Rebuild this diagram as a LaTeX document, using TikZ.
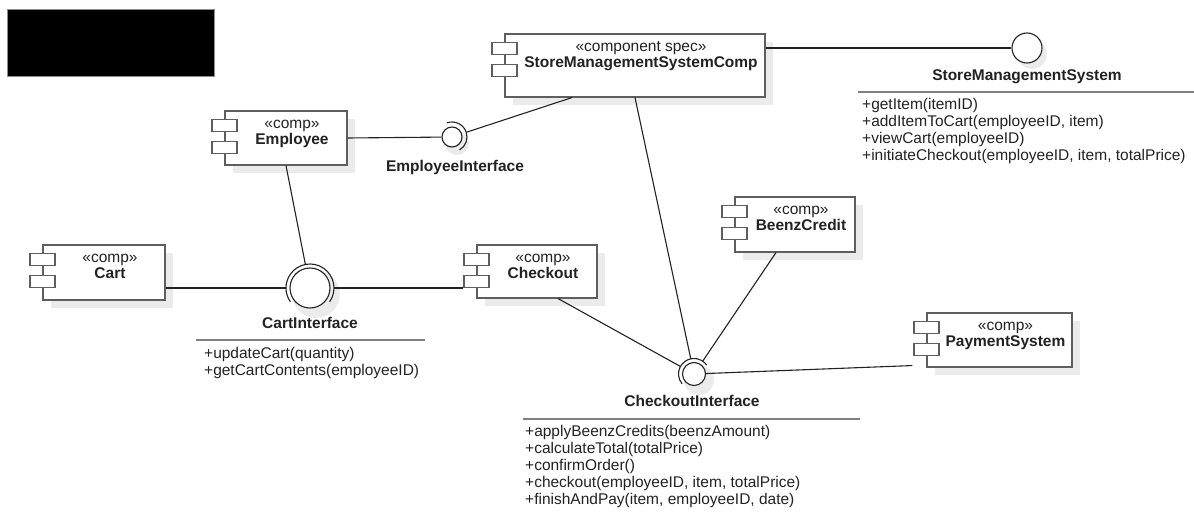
\documentclass[tikz,border=0pt]{standalone}
\usepackage{fontspec}
\setmainfont{Liberation Sans}
\definecolor{boxc}{HTML}{5E5E5E}
\definecolor{linec}{HTML}{222222}
\definecolor{txtc}{HTML}{222222}
\definecolor{sepc}{HTML}{808080}
\definecolor{shadc}{HTML}{EBEBEB}
\newcommand\dfont{\fontsize{15.5}{17}\selectfont}
\tikzset{
 compbox/.style={rectangle, draw=boxc, fill=white, line width=1.1pt, inner sep=0pt},
 iconrect/.style={rectangle, draw=boxc, fill=white, line width=1.1pt, minimum width=25pt, minimum height=12pt, inner sep=0pt},
 stereo/.style={text=txtc, inner sep=0pt, anchor=mid},
 cname/.style={text=txtc, inner sep=0pt, anchor=mid, font=\dfont\bfseries},
 conn/.style={draw=linec, line width=1.1pt},
 ball/.style={circle, draw=linec, line width=1.1pt, fill=white, inner sep=0pt},
 sockarea/.style={circle, inner sep=0pt},
 sock/.style={draw=linec, line width=1.1pt},
 ilabel/.style={text=txtc, inner sep=0pt, anchor=mid, font=\dfont\bfseries},
 sepline/.style={draw=sepc, line width=1.4pt},
 methods/.style={align=left, anchor=north west, inner sep=0pt, text=txtc, font=\dfont},
}
% name, cx, cy, w, h, stereotype, label
\newcommand\compo[7]{%
 \fill[shadc] ({#2-#4/2+8},{#3-#5/2+8}) rectangle ({#2+#4/2+8},{#3+#5/2+8});
 \node[compbox, minimum width=#4pt, minimum height=#5pt] (#1) at (#2,#3) {};
 \node[iconrect] (#1-i1) at ([yshift=-15pt]#1.north west) {};
 \node[iconrect] (#1-i2) at ([yshift=-37pt]#1.north west) {};
 \node[stereo] (#1-s) at ([xshift=6pt,yshift=-15pt]#1.north) {#6};
 \node[cname] (#1-n) at ([xshift=6pt,yshift=-31pt]#1.north) {#7};
}
\begin{document}
\begin{tikzpicture}[x=1pt,y=-1pt,font=\dfont]
\useasboundingbox (0,0) rectangle (1194,513);

\node[fill=black, draw=black!45, line width=0.6pt, minimum width=207pt, minimum height=67pt, inner sep=0pt, anchor=north west] (redact) at (7,9) {};

% components
\compo{sms}{635}{65.5}{260}{63}{«component spec»}{StoreManagementSystemComp}
\compo{emp}{286}{138}{122}{54}{«comp»}{Employee}
\compo{cart}{104}{272.5}{122}{55}{«comp»}{Cart}
\compo{chk}{537}{271.5}{120}{53}{«comp»}{Checkout}
\compo{beenz}{795}{224.5}{120}{55}{«comp»}{BeenzCredit}
\compo{pay}{999.5}{340}{145}{54}{«comp»}{PaymentSystem}

% interfaces
\fill[shadc] (1032,54) circle[radius=15pt];
\node[ball, minimum size=30pt] (smsI) at (1027,48) {};
\node[ilabel] (smsIl) at (1027,78) {StoreManagementSystem};

\fill[shadc] (457,143) circle[radius=12pt];
\node[ball, minimum size=20pt] (empI) at (452,137) {};
\node[sockarea, minimum size=30pt] (empS) at (empI.center) {};
\draw[sock] ([shift={(110:15pt)}]empS.center) arc[start angle=110, end angle=-60, radius=15pt];
\node[ilabel] (empIl) at (455,169) {EmployeeInterface};

\fill[shadc] (316,294) circle[radius=24pt];
\node[ball, minimum size=40pt] (cartI) at (310,288) {};
\node[sockarea, minimum size=48pt] (cartS) at (cartI.center) {};
\draw[sock] ([shift={(-35:24pt)}]cartS.center) arc[start angle=-35, end angle=215, radius=24pt];
\node[ilabel] (cartIl) at (310,326) {CartInterface};

\fill[shadc] (699,380) circle[radius=15pt];
\node[ball, minimum size=23pt] (chkI) at (694,374) {};
\node[sockarea, minimum size=31pt] (chkS) at (chkI.center) {};
\draw[sock] ([shift={(35:15.5pt)}]chkS.center) arc[start angle=35, end angle=220, radius=15.5pt];
\node[ilabel] (chkIl) at (692,404) {CheckoutInterface};

% separators
\coordinate (smsL) at (858,92); \coordinate (smsR) at (1194,92);
\draw[sepline] (smsL) -- (smsR);
\coordinate (cartL) at (196,340); \coordinate (cartR) at (425,340);
\draw[sepline] (cartL) -- (cartR);
\coordinate (chkL) at (523,419); \coordinate (chkR) at (860,419);
\draw[sepline] (chkL) -- (chkR);

% method lists
\node[methods] (smsM) at (862,98) {+getItem(itemID)\\+addItemToCart(employeeID, item)\\+viewCart(employeeID)\\+initiateCheckout(employeeID, item, totalPrice)};
\node[methods] (cartM) at (204,347) {+updateCart(quantity)\\+getCartContents(employeeID)};
\node[methods] (chkM) at (525,425) {+applyBeenzCredits(beenzAmount)\\+calculateTotal(totalPrice)\\+confirmOrder()\\+checkout(employeeID, item, totalPrice)\\+finishAndPay(item, employeeID, date)};

% connectors
\draw[conn] (sms.east |- smsI.center) -- (smsI);
\draw[conn] (emp.east) -- (empI);
\draw[conn] (empS) -- ([xshift=-63pt]sms.south);
\draw[conn] (emp.south) -- (cartS);
\draw[conn] (cart.east |- cartI.center) -- (cartS.west);
\draw[conn] (cartS.east) -- (cartS.east -| chk-i2.west);
\draw[conn] ([xshift=21pt]chk.south) -- (chkS);
\draw[conn] (sms.south) -- (chkS);
\draw[conn] ([xshift=-19pt]beenz.south) -- (chkS);
\draw[conn] ([xshift=-14pt,yshift=2pt]pay.south west) -- (chkI);
\end{tikzpicture}
\end{document}
